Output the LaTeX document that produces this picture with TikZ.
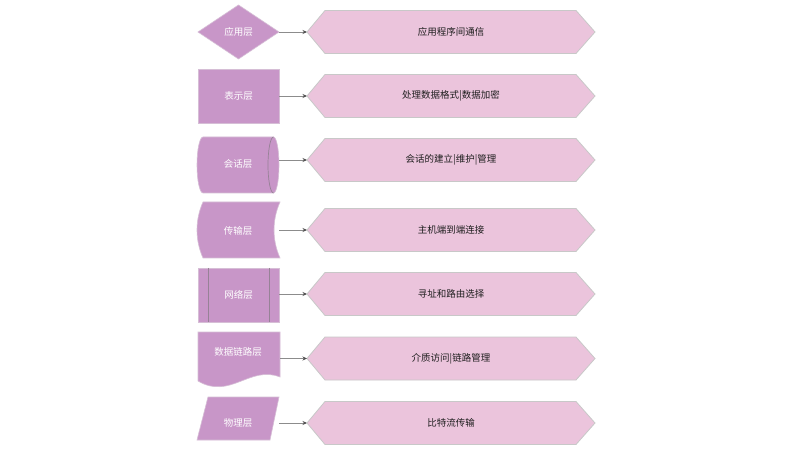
\documentclass[tikz,border=0pt]{standalone}
\usepackage{fontspec}
\setmainfont{Noto Sans CJK SC}
\usetikzlibrary{arrows.meta}
\definecolor{leftfill}{RGB}{200,150,200}
\definecolor{leftedge}{RGB}{214,190,214}
\definecolor{hexfill}{RGB}{235,196,220}
\definecolor{hexline}{RGB}{200,200,200}
\definecolor{conline}{RGB}{140,140,140}
\definecolor{tipcol}{RGB}{80,80,80}
\definecolor{hextxt}{RGB}{30,30,30}
\definecolor{innercol}{RGB}{150,130,150}
\tikzset{
  leftshape/.style={fill=leftfill, draw=leftedge, line width=0.6pt},
  innerline/.style={draw=innercol, line width=0.7pt},
  hexshape/.style={fill=hexfill, draw=hexline, line width=0.8pt},
  lefttext/.style={text=white, font=\fontsize{9.5}{11}\selectfont, inner sep=0pt},
  hextext/.style={text=hextxt, font=\fontsize{9.5}{11}\selectfont, inner sep=0pt},
  conn/.style={draw=conline, line width=0.8pt, -{Stealth[length=4.5pt,width=4pt,color=tipcol]}}
}
\newcommand\hexrow[3]{%
  \draw[hexshape] (307,#2) -- (325,{#2-21.5}) -- (576,{#2-21.5}) -- (595,#2) -- (576,{#2+21.5}) -- (325,{#2+21.5}) -- cycle;
  \node[hextext] (#1) at (451,#2) {#3};
  \coordinate (#1w) at (307,#2);
}
\begin{document}
\begin{tikzpicture}[x=1pt,y=-1pt]
\useasboundingbox (0,0) rectangle (800,470);
\fill[white] (0,0) rectangle (800,470);

% hexagons
\hexrow{h1}{32}{应用程序间通信}
\hexrow{h2}{96}{处理数据格式|数据加密}
\hexrow{h3}{160}{会话的建立|维护|管理}
\hexrow{h4}{230}{主机端到端连接}
\hexrow{h5}{294}{寻址和路由选择}
\hexrow{h6}{358.5}{介质访问|链路管理}
\hexrow{h7}{423}{比特流传输}

% 1 diamond
\draw[leftshape] (198,32) -- (238.5,5) -- (279,32) -- (238.5,59) -- cycle;
\node[lefttext] (l1) at (238.5,32) {应用层};
\coordinate (a1) at (279,32);

% 2 rectangle
\draw[leftshape] (198,69) rectangle (279,123);
\node[lefttext] (l2) at (238.5,96) {表示层};
\coordinate (a2) at (279,96);

% 3 cylinder
\draw[leftshape] (203,137) -- (273.5,137)
  arc[start angle=-90, end angle=90, x radius=5.5, y radius=28]
  -- (203,193)
  arc[start angle=90, end angle=270, x radius=6, y radius=28] -- cycle;
\draw[innerline] (273.5,137) arc[start angle=-90, end angle=-270, x radius=5.5, y radius=28];
\node[lefttext] (l3) at (238,164) {会话层};
\coordinate (a3) at (279,160);

% 4 stored data
\draw[leftshape] (203,202) .. controls (195,220) and (195,240) .. (203,258)
  -- (280,258) .. controls (272,240) and (272,220) .. (280,202) -- cycle;
\node[lefttext] (l4) at (238,231) {传输层};
\coordinate (a4) at (279,230);

% 5 predefined process
\draw[leftshape] (198,268) rectangle (279,322);
\draw[innerline] (208,268) -- (208,322);
\draw[innerline] (269,268) -- (269,322);
\node[lefttext] (l5) at (238.5,295) {网络层};
\coordinate (a5) at (279,294);

% 6 document
\draw[leftshape] (198,332) -- (280,332) -- (280,377)
  .. controls (250,365) and (230,400) .. (198,381) -- cycle;
\node[lefttext] (l6) at (238,352) {数据链路层};
\coordinate (a6) at (280,358.5);

% 7 parallelogram
\draw[leftshape] (208,397) -- (279,397) -- (270,440) -- (197,440) -- cycle;
\node[lefttext] (l7) at (238,423) {物理层};
\coordinate (a7) at (279,423);

% connectors
\foreach \i in {1,...,7} {
  \draw[conn] (a\i) -- (h\i w);
}
\end{tikzpicture}
\end{document}
